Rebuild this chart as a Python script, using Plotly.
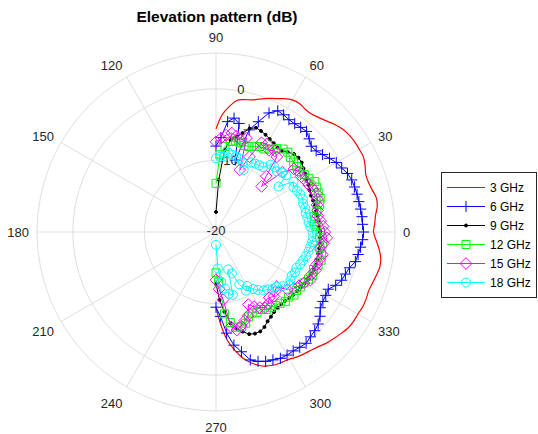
import plotly.graph_objects as go

theta = list(range(-90, 91, 3))

ghz3 = [-9.5, -7.0, -4.8, -3.3, -2.0, -1.1, -0.4, 0.05, 0.3, 0.4, 0.5, 0.8, 1.0, 1.2, 1.5, 1.9,
        2.2, 2.5, 2.8, 2.9, 2.9, 3.0, 2.95, 2.85, 3.0, 3.2, 3.4, 3.3, 2.9, 2.4, 2.0, 2.2, 2.4,
        2.8, 2.9, 2.6, 2.4, 2.4, 2.8, 3.1, 3.1, 3.1, 3.0, 2.8, 2.4, 1.9, 1.5, 1.2, 1.2, 1.4,
        1.3, 0.9, 0.4, 0.0, -0.5, -0.9, -1.1, -1.4, -2.4, -3.6, -5.6]
ghz6 = [-9.5, -8.2, -5.8, -4.0, -2.9, -1.5, -1.0, -0.65, -0.45, -0.2, -0.15, -0.2, -0.1, 0.0,
        -0.3, -0.5, -0.8, -1.3, -2.0, -2.2, -2.3, -2.4, -1.7, -1.2, -1.0, -0.7, -0.1, 0.1, 0.3,
        0.5, 0.6, 0.5, 0.5, 0.45, 0.4, 0.4, 0.35, 0.3, 0.1, -0.3, -0.6, -1.1, -1.6, -2.0, -2.1,
        -1.6, -1.1, -1.2, -1.3, -1.3, -1.1, -1.0, -1.8, -3.5, -5.0, -9.6, -4.5, -3.9, -4.5,
        -6.8, -8.0]
ghz9 = [-12.8, -10.5, -8.8, -7.1, -6.2, -5.6, -5.0, -4.8, -4.8, -5.1, -5.6, -5.9, -6.2, -6.4,
        -6.4, -6.4, -6.25, -6.1, -6.0, -5.9, -5.7, -5.6, -5.5, -5.35, -5.3, -5.35, -5.4, -5.4,
        -5.45, -5.45, -5.5, -5.6, -5.6, -5.65, -5.7, -5.7, -5.75, -5.8, -5.7, -5.5, -5.4, -5.1,
        -4.9, -4.6, -4.5, -4.6, -5.0, -5.4, -5.4, -5.2, -5.0, -4.75, -4.55, -4.4, -4.8, -5.7,
        -6.4, -7.0, -8.5, -12.7, -17.2]
ghz12 = [-14.3, -13.0, -8.5, -7.2, -6.4, -6.3, -6.6, -7.3, -7.6, -7.4, -7.5, -7.1, -7.0, -6.8,
         -6.6, -6.3, -6.4, -6.0, -6.1, -5.9, -5.8, -5.5, -5.2, -5.4, -5.0, -4.8, -4.9, -5.3,
         -5.0, -5.5, -5.4, -5.9, -6.2, -6.1, -5.6, -5.0, -4.7, -4.7, -4.6, -4.5, -5.0, -5.3,
         -5.6, -5.5, -5.4, -5.3, -5.0, -5.1, -5.6, -6.2, -6.6, -6.6, -6.9, -7.2, -7.3, -7.1,
         -7.0, -7.2, -8.0, -9.2, -13.2]
ghz15 = [-13.3, -12.0, -10.5, -6.6, -6.0, -6.4, -7.0, -7.5, -8.9, -8.3, -7.8, -7.4, -7.6, -8.2,
         -7.9, -8.3, -8.6, -7.2, -6.6, -6.2, -5.8, -5.2, -5.4, -5.1, -5.25, -5.0, -4.8, -5.3,
         -4.9, -4.5, -4.8, -5.0, -5.3, -5.6, -5.5, -5.4, -5.1, -5.0, -5.2, -5.5, -5.6, -5.8,
         -5.7, -6.0, -7.5, -11.0, -9.5, -6.5, -6.0, -6.4, -5.8, -6.0, -8.5, -10.7, -6.2, -6.7,
         -6.3, -6.0, -6.4, -6.9, -7.4]
ghz18 = [-18.2, -14.9, -13.0, -12.0, -11.2, -10.9, -14.5, -13.8, -12.0, -10.8, -11.3, -10.5,
         -10.0, -9.5, -9.2, -8.8, -8.6, -8.0, -7.4, -7.6, -7.8, -7.6, -7.7, -7.4, -7.2, -7.0,
         -6.8, -6.7, -6.5, -6.4, -6.5, -6.8, -7.0, -7.1, -7.2, -7.1, -7.2, -7.0, -7.1, -7.3,
         -7.5, -7.1, -9.2, -7.4, -7.6, -8.0, -7.8, -7.9, -8.8, -8.9, -9.0, -9.1, -10.5, -9.6,
         -9.2, -9.1, -9.0, -8.8, -9.4, -9.5, -9.7]

names = ["3 GHz", "6 GHz", "9 GHz", "12 GHz", "15 GHz", "18 GHz"]
series = [ghz3, ghz6, ghz9, ghz12, ghz15, ghz18]
colors = ["#ff0000", "#0000ff", "#000000", "#00ff00", "#ff00ff", "#00ffff"]
symbols = [None, "cross-thin", "circle", "square-open", "diamond-open", "circle-open"]
sizes = [0, 8, 3, 8, 9, 9]

radial_ticks = [-20, -10, 0]
radial_label_angle = 80
angular_ticks = list(range(0, 360, 30))

fig = go.Figure()
# radial tick labels, centred on the rings along the label angle (drawn beneath the data)
fig.add_trace(go.Scatterpolar(r=radial_ticks, theta=[radial_label_angle] * len(radial_ticks),
                              mode="text", text=[str(v) for v in radial_ticks],
                              textposition="middle center",
                              textfont=dict(size=13, color="#262626"),
                              showlegend=False, hoverinfo="skip", cliponaxis=False))
for nm, r, c, s, sz in zip(names, series, colors, symbols, sizes):
    if s is None:
        fig.add_trace(go.Scatterpolar(r=r, theta=theta, name=nm, mode="lines",
                                      line=dict(color=c, width=1.2, shape="spline")))
    else:
        fig.add_trace(go.Scatterpolar(r=r, theta=theta, name=nm, mode="lines+markers",
                                      line=dict(color=c, width=1),
                                      marker=dict(symbol=s, size=sz, color=c,
                                                  line=dict(color=c, width=1))))

grid = "#dfdfdf"
fig.update_layout(
    width=538, height=434,
    margin=dict(l=0, r=0, t=0, b=0),
    paper_bgcolor="white",
    font=dict(family="Liberation Sans, Arial, sans-serif", size=13, color="#262626"),
    title=dict(text="<b>Elevation pattern (dB)</b>", x=217 / 538, xanchor="center",
               y=1 - 17 / 434, yanchor="middle", font=dict(size=15.5, color="#000000")),
    polar=dict(
        domain=dict(x=[37 / 538, 395 / 538], y=[1 - 411 / 434, 1 - 53 / 434]),
        bgcolor="white",
        radialaxis=dict(range=[-20, 5], tickvals=radial_ticks,
                        showticklabels=False,
                        angle=radial_label_angle, showline=False, ticks="",
                        gridcolor=grid, gridwidth=1),
        angularaxis=dict(rotation=0, direction="counterclockwise",
                         tickvals=angular_ticks,
                         ticktext=[str(v) for v in angular_ticks],
                         ticks="outside", ticklen=5, tickcolor="rgba(0,0,0,0)",
                         showline=True, linecolor=grid, linewidth=1,
                         gridcolor=grid, gridwidth=1,
                         tickfont=dict(size=13, color="#262626")),
    ),
    legend=dict(x=441 / 538, xanchor="left", y=1 - 172 / 434, yanchor="top",
                bordercolor="#262626", borderwidth=1, bgcolor="white",
                itemwidth=38,
                font=dict(size=12, color="#000000"), tracegroupgap=0),
    showlegend=True,
)

fig.write_html("out.html")
